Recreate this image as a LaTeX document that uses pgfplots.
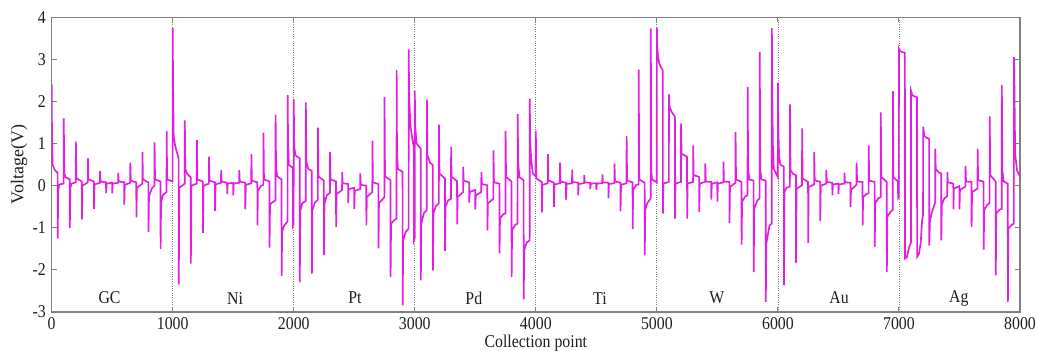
\documentclass[border=0pt]{standalone}
\usepackage{pgfplots}
\pgfplotsset{compat=1.18}
\usepackage{fontspec}
\setmainfont{Liberation Serif}[FakeStretch=0.88]
\newfontfamily\ylabfont{Liberation Serif}
\definecolor{sig}{RGB}{226,30,226}
\definecolor{axgray}{RGB}{128,128,128}
\definecolor{txt}{RGB}{30,30,30}
\begin{document}
\begin{tikzpicture}
\useasboundingbox (-31pt,-23.4pt) rectangle (591.8pt,187.2pt);
\begin{axis}[
  scale only axis, width=581pt, height=176.8pt,
  xmin=0, xmax=8000, ymin=-3, ymax=4,
  xtick={0,1000,...,8000}, ytick={-3,-2,...,4},
  /pgf/number format/assume math mode=true,
  /pgf/number format/1000 sep={},
  tick align=inside, major tick length=3pt,
  axis line style={axgray, line width=0.7pt},
  tick style={axgray, line width=0.6pt},
  every tick label/.append style={font=\fontsize{10.8}{12}\selectfont, text=txt},
  xmajorgrids=true,
  major grid style={densely dotted, axgray, line width=0.5pt},
  xlabel={Collection point},
  xlabel style={at={(axis description cs:0.5,0)}, anchor=base, yshift=-21.5pt, font=\fontsize{10.8}{12}\selectfont, text=txt},
  ylabel={\ylabfont Voltage(V)},
  ylabel style={at={(axis description cs:0,0.5)}, anchor=center, yshift=19.6pt, font=\fontsize{10.8}{12}\selectfont, text=txt},
  clip=true,
]
\addplot[sig, line width=1.0pt] coordinates {
(0,2.4)(3,1.1)(8,0.5)(25,0.38)(49,0.3)
(50,-1.25)(54,-0.1)(65,0.03)(99,0.05)
(100,1.6)(104,0.3)(115,0.2)(149,0.15)
(150,-1.0)(154,-0.05)(165,0.05)(199,0.08)
(200,1.05)(204,0.18)(249,0.1)
(250,-0.8)(254,0.0)(299,0.08)
(300,0.65)(304,0.15)(349,0.1)
(350,-0.55)(354,0.03)(399,0.07)
(400,0.35)(404,0.1)(449,0.08)
(450,-0.17)(454,0.05)(499,0.07)
(500,-0.18)(504,0.05)(549,0.07)
(550,0.3)(554,0.1)(599,0.08)
(600,-0.45)(604,0.02)(649,0.07)
(650,0.55)(654,0.12)(699,0.08)
(700,-0.75)(704,-0.05)(749,0.05)
(750,0.8)(754,0.15)(799,0.08)
(800,-1.1)(804,-0.25)(830,-0.05)(849,0.0)
(850,1.03)(854,0.15)(899,0.1)
(900,-1.5)(904,-0.4)(920,-0.22)(949,-0.15)
(950,1.3)(954,0.15)(999,0.1)
(1000,3.75)(1003,2.4)(1008,1.2)(1020,0.95)(1049,0.65)
(1050,-2.35)(1055,-0.05)(1099,0.05)
(1100,1.55)(1104,0.4)(1120,0.28)(1149,0.2)
(1150,-1.85)(1154,0.0)(1199,0.05)
(1200,1.08)(1204,0.15)(1249,0.1)
(1250,-1.12)(1254,0.0)(1299,0.05)
(1300,0.69)(1304,0.12)(1349,0.08)
(1350,-0.6)(1354,0.03)(1399,0.07)
(1400,0.37)(1404,0.1)(1449,0.07)
(1450,-0.2)(1454,0.05)(1499,0.07)
(1500,-0.23)(1504,0.05)(1549,0.07)
(1550,0.37)(1554,0.1)(1599,0.07)
(1600,-0.56)(1604,0.02)(1649,0.06)
(1650,0.75)(1654,0.12)(1699,0.08)
(1700,-0.94)(1704,-0.12)(1730,0.0)(1749,0.02)
(1750,1.26)(1754,0.15)(1799,0.1)
(1800,-1.47)(1804,-0.45)(1830,-0.38)(1849,-0.35)
(1850,1.69)(1854,0.4)(1865,0.22)(1899,0.15)
(1900,-2.15)(1904,-1.1)(1920,-0.95)(1949,-0.85)
(1950,2.15)(1953,1.0)(1960,0.5)(1992,0.42)(1993,-0.95)(1999,-0.9)
(2000,2.05)(2004,0.92)(2015,0.72)(2049,0.65)
(2050,-2.29)(2054,-0.6)(2070,-0.42)(2099,-0.36)
(2100,1.98)(2104,0.57)(2120,0.4)(2149,0.35)
(2150,-2.09)(2154,-0.58)(2175,-0.4)(2199,-0.33)
(2200,1.38)(2204,0.22)(2249,0.12)
(2250,-1.65)(2254,-0.42)(2275,-0.22)(2299,-0.17)
(2300,0.8)(2304,0.15)(2349,0.1)
(2350,-0.98)(2354,-0.2)(2399,-0.1)
(2400,0.33)(2404,0.06)(2449,0.04)
(2450,-0.41)(2454,-0.08)(2499,-0.05)
(2500,-0.55)(2504,-0.12)(2549,-0.08)
(2550,0.29)(2554,0.02)(2599,0.0)
(2600,-0.94)(2604,-0.27)(2649,-0.15)
(2650,1.07)(2654,0.08)(2699,0.04)
(2700,-1.49)(2704,-0.42)(2749,-0.27)
(2750,2.11)(2754,0.22)(2799,0.13)
(2800,-2.17)(2804,-0.9)(2830,-0.82)(2849,-0.78)
(2850,2.75)(2853,0.84)(2860,0.4)(2899,0.33)
(2900,-2.84)(2904,-1.3)(2925,-1.1)(2949,-1.02)
(2950,3.24)(2953,2.1)(2965,1.4)(2985,1.0)(2992,0.95)(2993,-1.3)(2999,-1.25)
(3000,2.25)(3004,1.4)(3015,1.0)(3049,0.88)
(3050,-2.25)(3054,-0.9)(3075,-0.65)(3099,-0.58)
(3100,2.05)(3104,0.73)(3125,0.55)(3149,0.49)
(3150,-2.01)(3154,-0.66)(3175,-0.48)(3199,-0.42)
(3200,1.45)(3204,0.29)(3249,0.17)
(3250,-1.55)(3254,-0.5)(3275,-0.35)(3299,-0.31)
(3300,0.92)(3304,0.21)(3349,0.11)
(3350,-0.92)(3354,-0.27)(3399,-0.15)
(3400,0.45)(3404,0.12)(3449,0.08)
(3450,-0.4)(3454,-0.15)(3499,-0.1)
(3500,-0.56)(3504,-0.23)(3549,-0.15)
(3550,0.33)(3554,0.04)(3599,0.01)
(3600,-1.06)(3604,-0.42)(3649,-0.31)
(3650,0.84)(3654,0.08)(3699,0.05)
(3700,-1.61)(3704,-0.78)(3730,-0.68)(3749,-0.66)
(3750,1.3)(3754,0.21)(3799,0.1)
(3800,-2.17)(3804,-1.06)(3830,-0.93)(3849,-0.9)
(3850,1.7)(3854,0.53)(3865,0.2)(3899,0.13)
(3900,-2.7)(3904,-1.53)(3925,-1.35)(3949,-1.3)
(3950,2.07)(3953,1.08)(3962,0.61)(3975,0.29)(3999,0.22)
(4000,1.3)(4004,0.17)(4049,0.09)
(4050,-0.64)(4054,0.02)(4099,0.06)
(4100,0.75)(4104,0.13)(4149,0.07)
(4150,-0.5)(4154,0.03)(4199,0.06)
(4200,0.55)(4204,0.1)(4249,0.07)
(4250,-0.34)(4254,0.04)(4299,0.06)
(4300,0.38)(4304,0.09)(4349,0.07)
(4350,-0.23)(4354,0.04)(4399,0.06)
(4400,0.25)(4404,0.08)(4449,0.07)
(4450,-0.08)(4454,0.05)(4499,0.06)
(4500,-0.1)(4504,0.05)(4549,0.06)
(4550,0.27)(4554,0.08)(4599,0.07)
(4600,-0.3)(4604,0.04)(4649,0.06)
(4650,0.53)(4654,0.1)(4699,0.07)
(4700,-0.61)(4704,0.02)(4749,0.06)
(4750,1.18)(4754,0.12)(4799,0.08)
(4800,-1.03)(4804,-0.1)(4830,0.02)(4849,0.03)
(4850,2.76)(4854,0.15)(4899,0.07)
(4900,-1.65)(4904,-0.58)(4920,-0.42)(4949,-0.3)
(4950,3.74)(4953,0.37)(4960,0.15)(4999,0.08)
(5000,3.76)(5003,3.3)(5010,3.06)(5020,2.9)(5045,2.76)(5049,2.74)
(5050,-0.66)(5054,0.05)(5099,0.09)
(5100,2.17)(5104,1.88)(5120,1.76)(5149,1.64)
(5150,-0.78)(5154,0.05)(5199,0.09)
(5200,1.48)(5204,0.76)(5249,0.69)
(5250,-0.78)(5254,0.05)(5299,0.09)
(5300,0.96)(5304,0.25)(5349,0.21)
(5350,-0.62)(5354,0.05)(5399,0.09)
(5400,0.53)(5404,0.1)(5449,0.09)
(5450,-0.33)(5454,0.05)(5499,0.08)
(5500,-0.38)(5504,0.05)(5549,0.08)
(5550,0.57)(5554,0.1)(5599,0.09)
(5600,-0.88)(5604,-0.03)(5649,0.07)
(5650,1.28)(5654,0.15)(5699,0.09)
(5700,-1.4)(5704,-0.38)(5730,-0.25)(5749,-0.23)
(5750,2.35)(5754,0.37)(5765,0.15)(5799,0.12)
(5800,-2.05)(5804,-0.55)(5830,-0.35)(5849,-0.3)
(5850,3.18)(5854,0.37)(5865,0.15)(5899,0.12)
(5900,-2.76)(5904,-1.38)(5930,-0.95)(5949,-0.9)
(5950,3.75)(5953,2.4)(5958,1.0)(5966,0.4)(5999,0.2)
(6000,2.45)(6003,1.4)(6010,0.69)(6020,0.5)(6049,0.45)
(6050,-2.37)(6054,-0.15)(6070,-0.05)(6099,-0.02)
(6100,1.93)(6104,0.37)(6125,0.28)(6149,0.25)
(6150,-1.83)(6154,-0.07)(6199,0.01)
(6200,1.36)(6204,0.17)(6249,0.09)
(6250,-1.36)(6254,-0.03)(6299,0.03)
(6300,0.8)(6304,0.13)(6349,0.09)
(6350,-0.84)(6354,0.0)(6399,0.05)
(6400,0.37)(6404,0.09)(6449,0.07)
(6450,-0.23)(6454,0.03)(6499,0.05)
(6500,-0.2)(6504,0.03)(6549,0.05)
(6550,0.31)(6554,0.08)(6599,0.07)
(6600,-0.5)(6604,-0.1)(6649,0.02)
(6650,0.55)(6654,0.1)(6699,0.09)
(6700,-0.94)(6704,-0.27)(6730,-0.2)(6749,-0.18)
(6750,0.96)(6754,0.12)(6799,0.09)
(6800,-1.45)(6804,-0.42)(6830,-0.3)(6849,-0.27)
(6850,1.74)(6854,0.21)(6899,0.09)
(6900,-2.05)(6904,-0.74)(6930,-0.62)(6949,-0.58)
(6950,2.25)(6954,0.2)(6992,0.1)(6993,-0.3)(6999,-0.28)
(7000,3.26)(7010,3.2)(7030,3.17)(7049,3.16)
(7050,-1.73)(7065,-1.7)(7085,-1.45)(7099,-1.35)
(7100,2.25)(7110,2.15)(7130,2.12)(7149,2.1)
(7150,-1.69)(7165,-1.62)(7180,-1.35)(7192,-0.8)(7199,-0.7)
(7200,1.4)(7210,1.18)(7230,1.13)(7249,1.12)
(7250,-1.42)(7256,-0.85)(7272,-0.63)(7299,-0.4)
(7300,0.88)(7304,0.4)(7330,0.31)(7349,0.29)
(7350,-1.3)(7354,-0.45)(7375,-0.3)(7399,-0.25)
(7400,0.33)(7404,0.08)(7449,0.05)
(7450,-0.56)(7454,-0.07)(7499,-0.01)
(7500,-0.56)(7504,-0.1)(7549,-0.02)
(7550,0.47)(7554,0.1)(7599,0.09)
(7600,-0.98)(7604,-0.15)(7649,-0.07)
(7650,0.88)(7654,0.13)(7699,0.1)
(7700,-1.52)(7704,-0.58)(7730,-0.45)(7749,-0.42)
(7750,1.65)(7754,0.25)(7799,0.1)
(7800,-2.13)(7804,-0.66)(7830,-0.57)(7849,-0.55)
(7850,2.39)(7854,0.37)(7865,0.1)(7899,0.05)
(7900,-2.76)(7904,-1.02)(7930,-0.93)(7949,-0.9)
(7950,3.06)(7953,2.6)(7960,0.76)(7975,0.37)(8000,0.21)
};
\foreach \xx/\nm in {478/GC,1515/Ni,2505/Pt,3488/Pd,4530/Ti,5495/W,6505/Au,7495/Ag}{
  \edef\tmp{\noexpand\node[font=\noexpand\fontsize{10.8}{12}\noexpand\selectfont, text=txt] at (axis cs:\xx,-2.67) {\nm};}
  \tmp
}
\end{axis}
\end{tikzpicture}
\end{document}
